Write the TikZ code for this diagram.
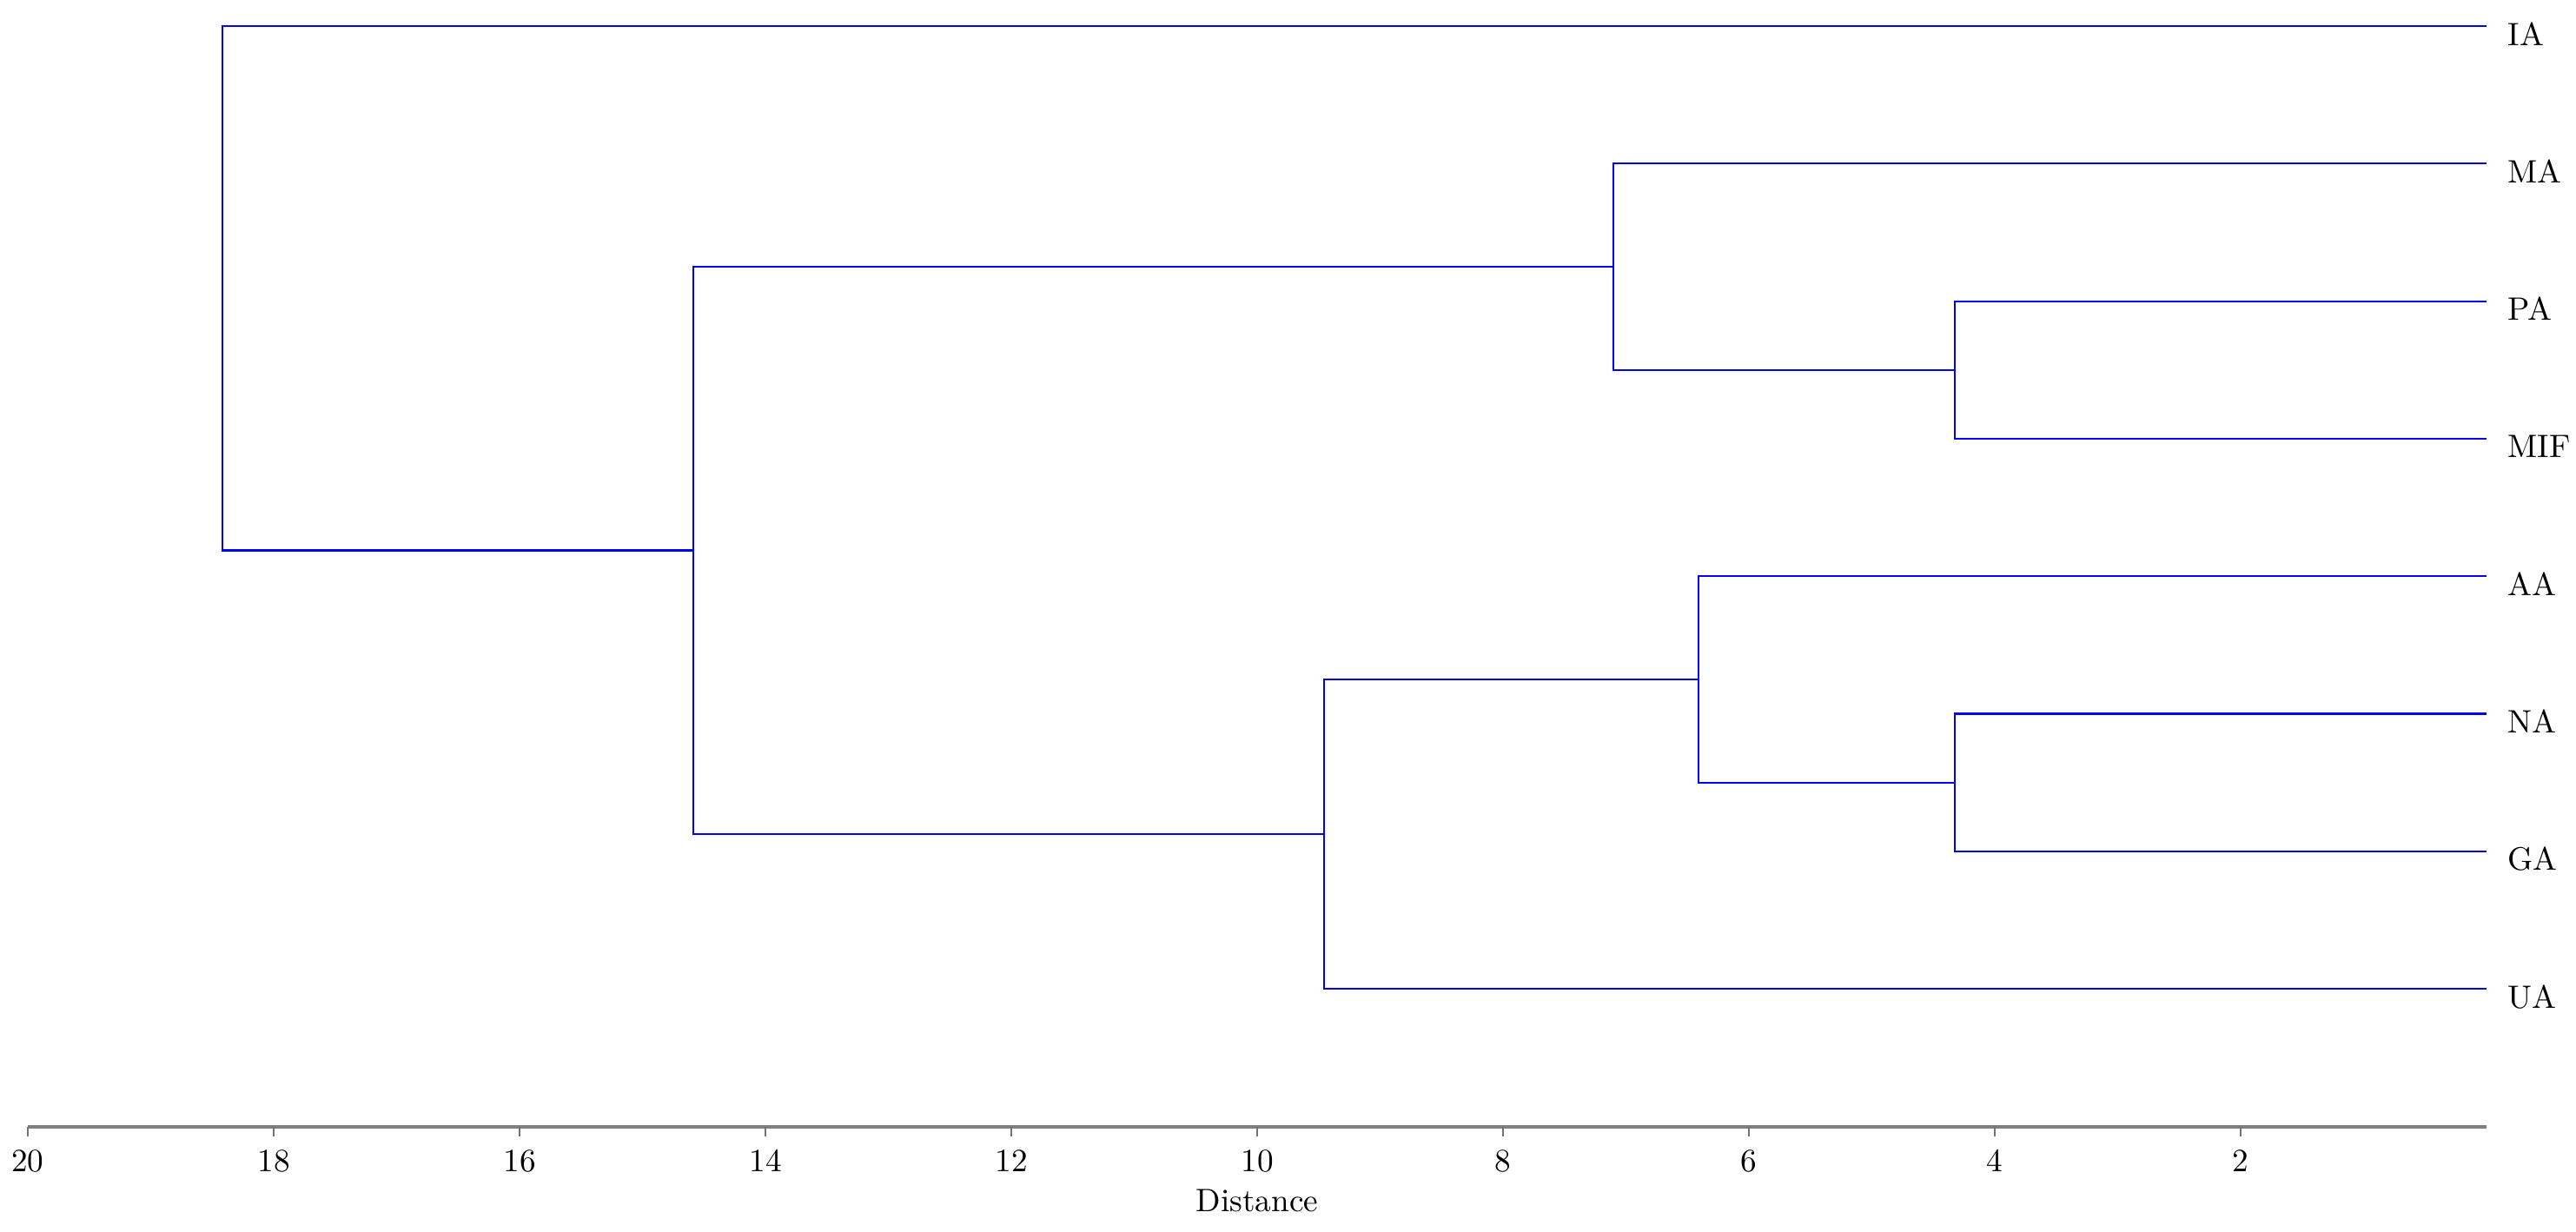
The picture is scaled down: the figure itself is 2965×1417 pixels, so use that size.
\documentclass[tikz,border=0pt]{standalone}
\begin{document}
\begin{tikzpicture}[x=0.01cm,y=-0.01cm,
  branch/.style={draw=blue, line width=0.6pt},
  leaflabel/.style={anchor=base west, inner sep=0pt, font=\fontsize{10.6}{12}\selectfont},
  ticklabel/.style={anchor=base, inner sep=0pt, font=\fontsize{10.6}{12}\selectfont},
  axisline/.style={draw=black!50, line width=1.3pt},
  tickmark/.style={draw=black!55, line width=0.7pt}]
\useasboundingbox (0,0) rectangle (2965,1417);
% leaf ends and labels
\foreach \n/\i in {IA/0,MA/1,PA/2,MIF/3,AA/4,NA/5,GA/6,UA/7}{
  \coordinate (e\n) at (2862,{30+158.3*\i});
  \node[leaflabel] (l\n) at (2886,{52+158.3*\i}) {\n};
}
% merge points
\coordinate (mPM) at (2250,425.8);
\coordinate (mNG) at (2250,900.8);
\coordinate (mMA) at (1857,307.1);
\coordinate (mAA) at (1955,782.0);
\coordinate (mUA) at (1524,960.0);
\coordinate (mMain) at (798,633.5);
\coordinate (mRoot) at (256,331.8);
% branches
\draw[branch] (ePA) -- (ePA -| mPM) -- (eMIF -| mPM) -- (eMIF);
\draw[branch] (eNA) -- (eNA -| mNG) -- (eGA -| mNG) -- (eGA);
\draw[branch] (eMA) -- (eMA -| mMA) -- (mPM -| mMA) -- (mPM);
\draw[branch] (eAA) -- (eAA -| mAA) -- (mNG -| mAA) -- (mNG);
\draw[branch] (mAA) -- (mAA -| mUA) -- (eUA -| mUA) -- (eUA);
\draw[branch] (mMA) -- (mMA -| mMain) -- (mUA -| mMain) -- (mUA);
\draw[branch] (eIA) -- (eIA -| mRoot) -- (mMain -| mRoot) -- (mMain);
% axis
\coordinate (a0) at (32,1297);
\coordinate (a1) at (2862,1297);
\draw[axisline] (a0) -- (a1);
\foreach \v in {20,18,...,2}{
  \coordinate (t\v) at ({32+(20-\v)*141.5},1297);
  \draw[tickmark] (t\v) -- ++(0,11);
  \node[ticklabel] (tl\v) at ({32+(20-\v)*141.5},1348) {\v};
}
\node[ticklabel] (xlabel) at (1447,1394) {Distance};
\end{tikzpicture}
\end{document}
